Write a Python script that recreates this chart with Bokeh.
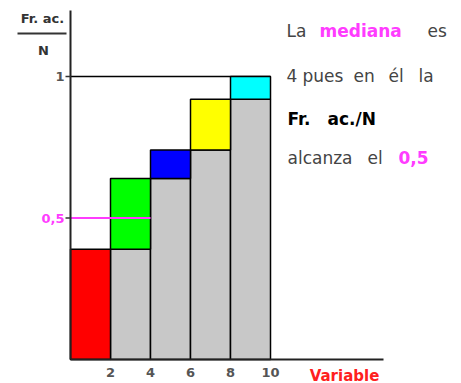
from bokeh.plotting import figure
from bokeh.models import Range1d
from bokeh.core.properties import value
from bokeh.embed import file_html
from bokeh.resources import INLINE

# ---- data ----
upper_limits = [2, 4, 6, 8, 10]
cum_rel_freq = [0.39, 0.64, 0.74, 0.92, 1.0]
bar_colors = ["#ff0000", "#00ff00", "#0000ff", "#ffff00", "#00ffff"]
class_width = 2
median_level = 0.5
median_value = 4
x_ticks = [2, 4, 6, 8, 10]
x_tick_labels = ["2", "4", "6", "8", "10"]
y_ticks = [0.5, 1]
y_tick_labels = ["0,5", "1"]

FONT = "DejaVu Sans"
PINK = "#ff3cff"

# layout: 20 px per x-unit, 283 px per y-unit, origin at pixel (70, 359)
PX_X, PX_Y, OX, OY = 20.0, 283.0, 70, 359
W, H = 461, 383


def dx(px):
    return (px - OX) / PX_X


def dy(py):
    return (OY - py) / PX_Y


p = figure(width=W, height=H, output_backend="svg", toolbar_location=None,
           x_range=Range1d(dx(0), dx(W)), y_range=Range1d(dy(H), dy(0)),
           min_border=0, x_axis_type=None, y_axis_type=None)
p.outline_line_color = None
p.grid.visible = False
p.background_fill_color = "white"

x_axis_end = dx(383)
y_axis_end = dy(10)

lefts = [u - class_width for u in upper_limits]
prev = [0] + cum_rel_freq[:-1]

# reference line at 1
p.segment(x0=0, x1=upper_limits[-1], y0=1, y1=1, line_color="black", line_width=1.5)

# gray: previous accumulated
p.quad(left=lefts[1:], right=upper_limits[1:], bottom=0, top=prev[1:],
       fill_color="#c8c8c8", line_color="black", line_width=1.5)
# colored increments
p.quad(left=lefts, right=upper_limits, bottom=prev, top=cum_rel_freq,
       fill_color=bar_colors, line_color="black", line_width=1.5)

# median line
p.segment(x0=0, x1=median_value, y0=median_level, y1=median_level, line_color=PINK, line_width=2)

# axes lines
p.segment(x0=[0, 0], y0=[0, 0], x1=[0, x_axis_end], y1=[y_axis_end, 0],
          line_color="#222222", line_width=2)
# y tick marks
p.segment(x0=[dx(65)] * len(y_ticks), x1=[0] * len(y_ticks), y0=y_ticks, y1=y_ticks,
          line_color="#333333", line_width=1.5)

# tick labels
p.text(x=x_ticks, y=[dy(372)] * len(x_ticks), text=x_tick_labels,
       text_font=value(FONT), text_font_size="13px", text_font_style="bold",
       text_color="#555555", text_align="center", text_baseline="middle")
p.text(x=[dx(64)] * len(y_ticks), y=y_ticks, text=y_tick_labels,
       text_font=value(FONT), text_font_size="13px", text_font_style="bold",
       text_color=[PINK, "#555555"], text_align="right", text_baseline="middle")

# y-axis title Fr. ac. / N
p.text(x=[dx(42), dx(43)], y=[dy(18), dy(50)], text=["Fr. ac.", "N"],
       text_font=value(FONT), text_font_size="13px", text_font_style="bold",
       text_color="#333333", text_align="center", text_baseline="middle")
p.segment(x0=dx(17), x1=dx(66), y0=dy(33), y1=dy(33), line_color="#333333", line_width=2)

# x-axis title
p.text(x=[dx(344)], y=[dy(375)], text=["Variable"], text_font=value(FONT),
       text_font_size="15px", text_font_style="bold", text_color="#ff2020",
       text_align="center", text_baseline="middle")

# explanatory text
G = "#444444"
words = [
    ("La", 286, 30, "normal", G), ("mediana", 319, 30, "bold", PINK), ("es", 427, 30, "normal", G),
    ("4", 286, 75, "normal", G), ("pues", 302, 75, "normal", G), ("en", 353, 75, "normal", G),
    ("él", 388, 75, "normal", G), ("la", 418, 75, "normal", G),
    ("Fr.", 287, 118, "bold", "#000000"), ("ac./N", 327, 118, "bold", "#000000"),
    ("alcanza", 287, 157, "normal", G), ("el", 367, 157, "normal", G), ("0,5", 398, 157, "bold", PINK),
]
p.text(x=[dx(w[1]) for w in words], y=[dy(w[2]) for w in words], text=[w[0] for w in words],
       text_font=value(FONT), text_font_size="17px", text_font_style=[w[3] for w in words],
       text_color=[w[4] for w in words], text_align="left", text_baseline="middle")

open("out.html", "w").write(file_html(p, INLINE))
